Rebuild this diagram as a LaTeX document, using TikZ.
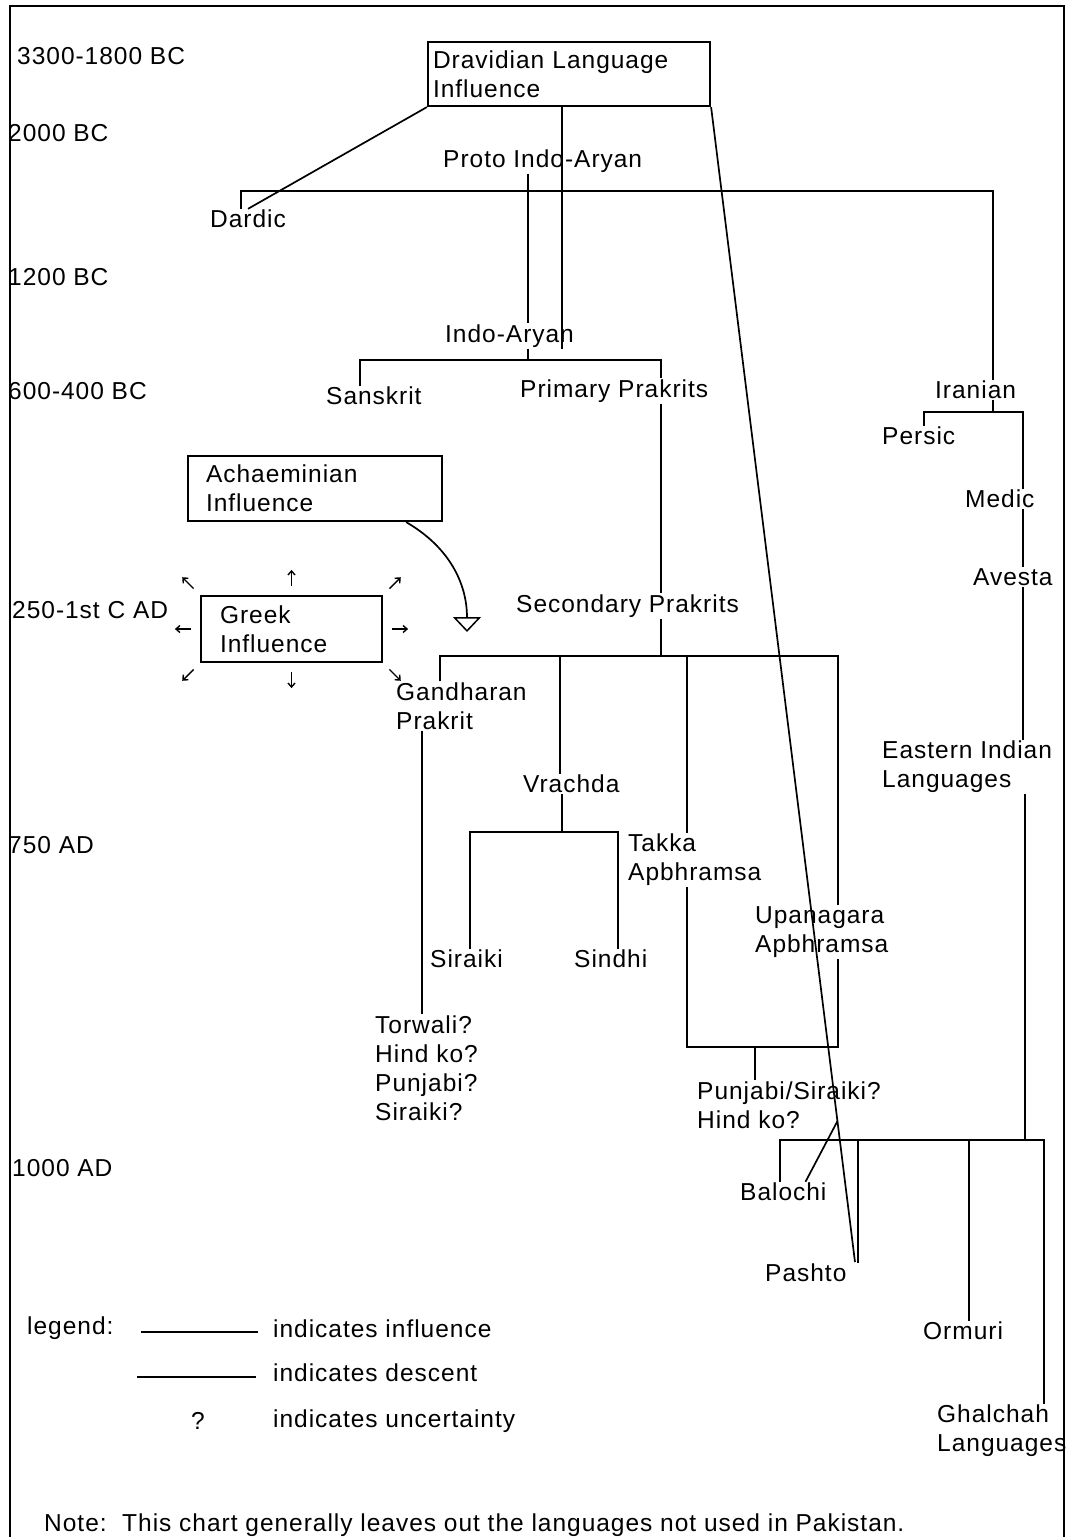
\documentclass[tikz,border=0pt]{standalone}
\usepackage{fontspec}
\setmainfont[LetterSpace=4]{Liberation Sans}
\usetikzlibrary{arrows.meta, calc}
\newcommand{\chartfnt}{\fontsize{24.5}{29}\selectfont}

\begin{document}
\begin{tikzpicture}[
    x=1pt, y=-1pt,
    lang/.style={font=\chartfnt, inner sep=1pt, align=left, anchor=west},
    era/.style={font=\chartfnt, inner sep=0pt, anchor=west},
    box/.style={draw, line width=2.2pt, align=left, font=\chartfnt, inner ysep=2pt},
    desc/.style={line width=2.6pt},
    infl/.style={line width=1.7pt},
    spark/.style={line width=1.4pt, -{Straight Barb[length=4pt, width=7pt]}}
  ]
  \fill[white] (0,0) rectangle (1066,1537);
  \useasboundingbox (0,0) rectangle (1066,1537);
  \draw[line width=2.6pt] (10,1545) -- (10,6) -- (1064,6) -- (1064,1545);

  % time scale
  \node[era] (t1) at (17,56) {3300-1800 BC};
  \node[era] (t2) at (8,133) {2000 BC};
  \node[era] (t3) at (8,277) {1200 BC};
  \node[era] (t4) at (8,391) {600-400 BC};
  \node[era] (t5) at (12,610) {250-1st C AD};
  \node[era] (t6) at (8,845) {750 AD};
  \node[era] (t7) at (12,1168) {1000 AD};

  % influences
  \node[box, text width=272pt, inner xsep=5pt, minimum height=64pt] (drav) at (569,74) {Dravidian Language\\Influence};
  \node[box, text width=218pt, inner xsep=18pt, minimum height=65pt] (ach) at (315,488.5) {Achaeminian\\Influence};
  \node[box, text width=143pt, inner xsep=19pt, minimum height=66pt] (greek) at (291.5,629) {Greek\\Influence};

  % languages
  \node[lang] (proto) at (442,161) {Proto Indo-Aryan};
  \node[lang] (dardic) at (209,219) {Dardic};
  \node[lang] (indoaryan) at (444,336) {Indo-Aryan};
  \node[lang] (sanskrit) at (325,396) {Sanskrit};
  \node[lang] (primary) at (519,391) {Primary Prakrits};
  \node[lang] (iranian) at (934,390) {Iranian};
  \node[lang] (persic) at (881,436) {Persic};
  \node[lang] (medic) at (964,499) {Medic};
  \node[lang] (avesta) at (972,577) {Avesta};
  \node[lang] (secondary) at (515,606) {Secondary Prakrits};
  \node[lang] (gandharan) at (395,706) {Gandharan\\Prakrit};
  \node[lang] (vrachda) at (522,784) {Vrachda};
  \node[lang] (takka) at (627,860) {Takka\\Apbhramsa};
  \node[lang] (siraiki) at (429,959) {Siraiki};
  \node[lang] (sindhi) at (573,959) {Sindhi};
  \node[lang] (upanagara) at (754,932) {Upanagara\\Apbhramsa};
  \node[lang] (torwali) at (374,1068) {Torwali?\\Hind ko?\\Punjabi?\\Siraiki?};
  \node[lang] (punjabi) at (696,1105) {Punjabi/Siraiki?\\Hind ko?};
  \node[lang] (eastern) at (881,767) {Eastern Indian\\Languages};
  \node[lang] (balochi) at (739,1192) {Balochi};
  \node[lang] (pashto) at (764,1273) {Pashto};
  \node[lang] (ormuri) at (922,1331) {Ormuri};
  \node[lang] (ghalchah) at (936,1431) {Ghalchah\\Languages};

  % bus points
  \coordinate (pbl) at (241,191);
  \coordinate (pbr) at (993,191);
  \coordinate (pdx) at (528,191);
  \coordinate (dvx) at (562,106);
  \coordinate (ibl) at (360,360);
  \coordinate (ibr) at (661,360);
  \coordinate (idx) at (528,360);
  \coordinate (sbl) at (440,656);
  \coordinate (sbr) at (838,656);
  \coordinate (sdx) at (661,656);
  \coordinate (vrx) at (560,656);
  \coordinate (tkx) at (687,656);
  \coordinate (vbl) at (470,832);
  \coordinate (vbr) at (618,832);
  \coordinate (vdx) at (562,832);
  \coordinate (gdx) at (422,0);
  \coordinate (abl) at (687,1047);
  \coordinate (abr) at (838,1047);
  \coordinate (adx) at (755,1047);
  \coordinate (rbl) at (924,412);
  \coordinate (rbr) at (1023,412);
  \coordinate (rdx) at (993,412);
  \coordinate (ebl) at (780,1140);
  \coordinate (ebr) at (1044,1140);
  \coordinate (edx) at (1025,1140);
  \coordinate (psx) at (858,1140);
  \coordinate (orx) at (969,1140);
  \coordinate (pin) at (855,1262);
  \coordinate (ain) at (467,632);

  % influence lines
  \draw[infl] (drav.south west) -- (dardic.north);
  \draw[infl] (drav.south -| dvx) -- (indoaryan.south -| dvx);
  \draw[infl] (drav.south east) -- (pin);
  \draw[infl] ($(drav.south east)!0.878!(pin)$) -- ($(balochi.north)!0.5!(balochi.north east)$);
  \draw[infl, -{Triangle[open, length=15pt, width=28pt, line width=1.5pt]}] ([xshift=-37pt]ach.south east) to[out=-30, in=90] (ain);
  \foreach \anc/\ang in {north/90, south/-90, east/0, west/180, north east/45, north west/135, south east/-45, south west/-135}
    \draw[spark] (greek.\anc) ++(\ang:9pt) -- ++(\ang:16pt);

  % descent lines
  \draw[desc] (dardic.north -| pbl) -- (pbl) -- (pbr) -- (iranian.north -| pbr);
  \draw[desc] (proto.south -| pdx) -- (indoaryan.north -| pdx);
  \draw[desc] (indoaryan.south -| idx) -- (idx);
  \draw[desc] (sanskrit.north -| ibl) -- (ibl) -- (ibr) -- (primary.north -| ibr);
  \draw[desc] (primary.south -| sdx) -- (secondary.north -| sdx);
  \draw[desc] (secondary.south -| sdx) -- (sdx);
  \draw[desc] (gandharan.north -| sbl) -- (sbl) -- (sbr) -- (upanagara.north -| sbr);
  \draw[desc] (vrx) -- (vrachda.north -| vrx);
  \draw[desc] (tkx) -- (takka.north -| tkx);
  \draw[desc] (vrachda.south -| vdx) -- (vdx);
  \draw[desc] (siraiki.north -| vbl) -- (vbl) -- (vbr) -- (sindhi.north -| vbr);
  \draw[desc] (gandharan.south -| gdx) -- (torwali.north -| gdx);
  \draw[desc] (takka.south -| abl) -- (abl) -- (abr) -- (upanagara.south -| abr);
  \draw[desc] (adx) -- (punjabi.north -| adx);
  \draw[desc] (iranian.south -| rdx) -- (rdx);
  \draw[desc] (persic.north -| rbl) -- (rbl) -- (rbr) -- (medic.north -| rbr);
  \draw[desc] (medic.south -| rbr) -- (avesta.north -| rbr);
  \draw[desc] (avesta.south -| rbr) -- (eastern.north -| rbr);
  \draw[desc] (eastern.south -| edx) -- (edx);
  \draw[desc] (balochi.north -| ebl) -- (ebl) -- (ebr) -- (ghalchah.north -| ebr);
  \draw[desc] (psx) -- (pashto.north -| psx);
  \draw[desc] (orx) -- (ormuri.north -| orx);

  % legend
  \node[era] (legend) at (27,1328) {legend:};
  \node[lang] (leginf) at (272,1329) {indicates influence};
  \node[lang] (legdesc) at (272,1373) {indicates descent};
  \node[lang] (legunc) at (272,1421) {indicates uncertainty};
  \node[lang, anchor=center] (legq) at (198,1421) {?};
  \draw[infl] ([xshift=-14pt, yshift=-3pt]leginf.west) -- ++(-117pt,0);
  \draw[desc] ([xshift=-16pt, yshift=-4pt]legdesc.west) -- ++(-119pt,0);
  \node[lang] (note) at (43,1525) {Note:\ \ This chart generally leaves out the languages not used in Pakistan.};
\end{tikzpicture}
\end{document}
